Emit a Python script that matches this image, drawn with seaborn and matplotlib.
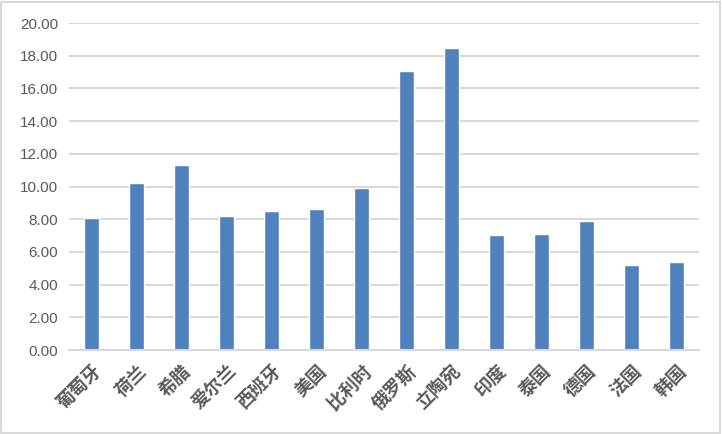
import pandas as pd
import matplotlib.pyplot as plt
import seaborn as sns

countries = ["葡萄牙", "荷兰", "希腊", "爱尔兰", "西班牙", "美国", "比利时",
             "俄罗斯", "立陶宛", "印度", "泰国", "德国", "法国", "韩国"]
values = [8.06, 10.21, 11.31, 8.19, 8.49, 8.62, 9.90,
          17.06, 18.48, 7.02, 7.09, 7.88, 5.19, 5.37]
yticks = [0, 2, 4, 6, 8, 10, 12, 14, 16, 18, 20]

df = pd.DataFrame({"国家": countries, "值": values})

sns.set_theme(style="white")
plt.rcParams['font.family'] = ['Noto Sans CJK SC', 'DejaVu Sans']

fig = plt.figure(figsize=(7.22, 4.34), dpi=100)
# borde gris de la figura
fig.patches.append(plt.Rectangle((0.002, 0.003), 0.995, 0.993, transform=fig.transFigure,
                                 fill=False, edgecolor="#D9D9D9", linewidth=1.5))
ax = fig.add_axes([0.0956, 0.1935, 0.8724, 0.7535])

sns.barplot(x="国家", y="值", data=df, color="#4F81BD", saturation=1, width=0.32, ax=ax)

ax.set_ylim(0, 20)
ax.set_xlim(-0.5, len(countries) - 0.5)
ax.set_yticks(yticks)
ax.set_yticklabels([f"{v:.2f}" for v in yticks], color="#595959", fontsize=11,
                   family=['Liberation Sans', 'DejaVu Sans'])
ax.yaxis.grid(True, color="#D9D9D9", linewidth=1.5)
ax.set_axisbelow(True)
ax.set_xlabel("")
ax.set_ylabel("")

for s in ["top", "right", "left"]:
    ax.spines[s].set_visible(False)
ax.spines["bottom"].set_color("#D9D9D9")
ax.spines["bottom"].set_linewidth(1.5)

ax.tick_params(axis="both", length=0, pad=8)
plt.setp(ax.get_xticklabels(), rotation=45, ha="right", rotation_mode="anchor",
         fontsize=13, fontweight="bold", color="#595959")

fig.savefig("out.png", dpi=100)
